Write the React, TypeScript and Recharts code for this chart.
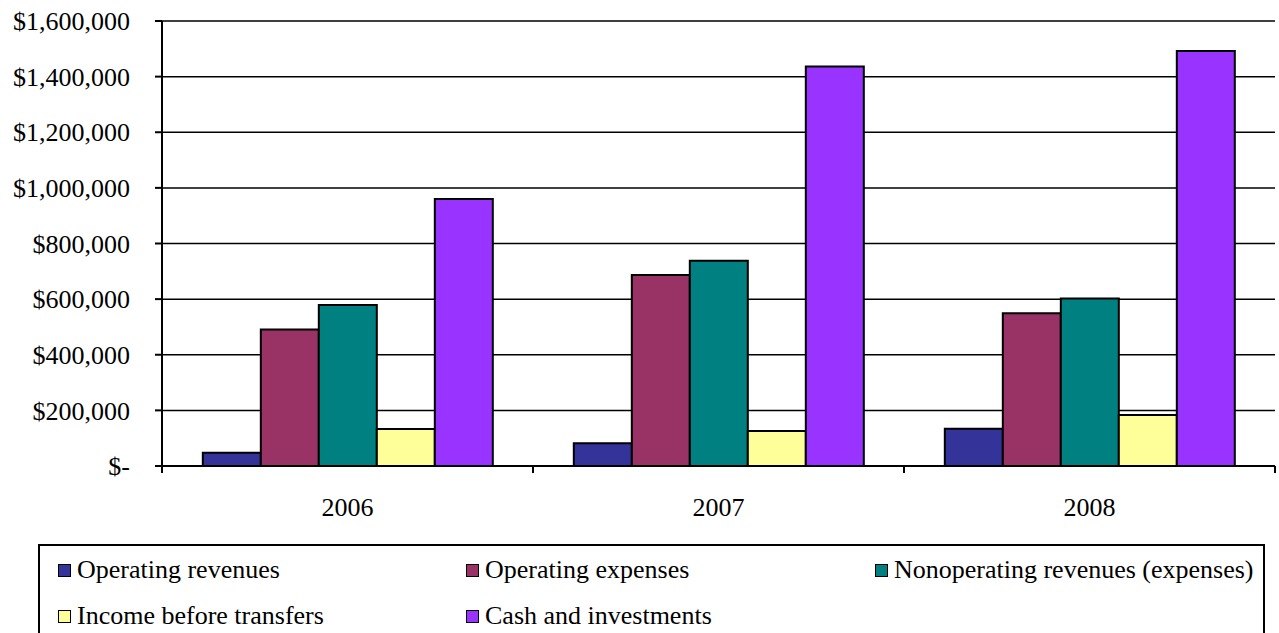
import { Bar, BarChart, CartesianGrid, XAxis, YAxis } from 'recharts';

const years = ['2006', '2007', '2008'];
const operatingRevenues = [48000, 82000, 134000];
const operatingExpenses = [491000, 687000, 549000];
const nonoperatingRevenues = [579000, 738000, 602000];
const incomeBeforeTransfers = [133000, 126000, 183000];
const cashAndInvestments = [960000, 1436000, 1492000];
const yTicks = [0, 200000, 400000, 600000, 800000, 1000000, 1200000, 1400000, 1600000];

const series = [
  { key: 'opRev', name: 'Operating revenues', color: '#333399', values: operatingRevenues },
  { key: 'opExp', name: 'Operating expenses', color: '#993366', values: operatingExpenses },
  { key: 'nonOp', name: 'Nonoperating revenues (expenses)', color: '#008080', values: nonoperatingRevenues },
  { key: 'income', name: 'Income before transfers', color: '#FFFF99', values: incomeBeforeTransfers },
  { key: 'cash', name: 'Cash and investments', color: '#9933FF', values: cashAndInvestments },
];

const data = years.map((year, i) => {
  const row: any = { year };
  series.forEach(s => { row[s.key] = s.values[i]; });
  return row;
});

const FONT = '"Liberation Serif", "Times New Roman", serif';

const money = (v: number) => (v === 0 ? '$-' : '$' + v.toLocaleString('en-US'));

// year label in the middle, small tick marks on the category boundaries
function YearTick(props: any) {
  const { x, y, payload, index, visibleTicksCount } = props;
  const off = payload.offset ?? 0;
  return (
    <g>
      <line x1={x - off} x2={x - off} y1={y} y2={y + 7} stroke="#000" strokeWidth={2} />
      {index === visibleTicksCount - 1 && (
        <line x1={x + off} x2={x + off} y1={y} y2={y + 7} stroke="#000" strokeWidth={2} />
      )}
      <text x={x} y={y + 50} textAnchor="middle" fontFamily={FONT} fontSize={26} fill="#000">
        {payload.value}
      </text>
    </g>
  );
}

const legendPos = [
  { left: 18, top: 24 },
  { left: 426, top: 24 },
  { left: 835, top: 24 },
  { left: 18, top: 70 },
  { left: 426, top: 70 },
];

export default function App() {
  return (
    <div style={{ position: 'absolute', left: 0, top: 0, width: 1279, height: 633, background: '#fff', overflow: 'hidden' }}>
      <BarChart
        width={1279}
        height={633}
        data={data}
        margin={{ top: 21, right: 4, bottom: 107, left: 0 }}
        barCategoryGap="11%"
        barGap={0}
      >
        <CartesianGrid vertical={false} stroke="#000" strokeWidth={1.5} />
        <XAxis
          dataKey="year"
          height={60}
          axisLine={{ stroke: '#000', strokeWidth: 2 }}
          tickLine={false}
          tickSize={0}
          tickMargin={0}
          tick={<YearTick />}
          interval={0}
        />
        <YAxis
          width={162}
          domain={[0, 1600000]}
          ticks={yTicks}
          interval={0}
          tickFormatter={money}
          axisLine={{ stroke: '#000', strokeWidth: 2 }}
          tickLine={{ stroke: '#000', strokeWidth: 2 }}
          tickSize={7}
          tickMargin={25}
          tick={{ fill: '#000', fontFamily: FONT, fontSize: 26 }}
        />
        <YAxis
          yAxisId="right"
          orientation="right"
          width={0}
          domain={[0, 1600000]}
          tick={false}
          tickLine={false}
          axisLine={{ stroke: '#000', strokeWidth: 2 }}
        />
        {series.map(s => (
          <Bar
            key={s.key}
            dataKey={s.key}
            name={s.name}
            fill={s.color}
            stroke="#000"
            strokeWidth={2}
            isAnimationActive={false}
          />
        ))}
      </BarChart>
      <div
        style={{
          position: 'absolute',
          left: 38,
          top: 544,
          width: 1227,
          height: 120,
          border: '2px solid #000',
          boxSizing: 'border-box',
          fontFamily: FONT,
          fontSize: 26,
          color: '#000',
        }}
      >
        {series.map((s, i) => (
          <div
            key={s.key}
            style={{
              position: 'absolute',
              left: legendPos[i].left,
              top: legendPos[i].top,
              transform: 'translateY(-50%)',
              display: 'flex',
              alignItems: 'center',
              whiteSpace: 'nowrap',
              lineHeight: 1,
            }}
          >
            <span
              style={{
                display: 'inline-block',
                width: 11,
                height: 11,
                background: s.color,
                border: '1.5px solid #000',
                marginRight: 6,
              }}
            />
            <span>{s.name}</span>
          </div>
        ))}
      </div>
    </div>
  );
}
